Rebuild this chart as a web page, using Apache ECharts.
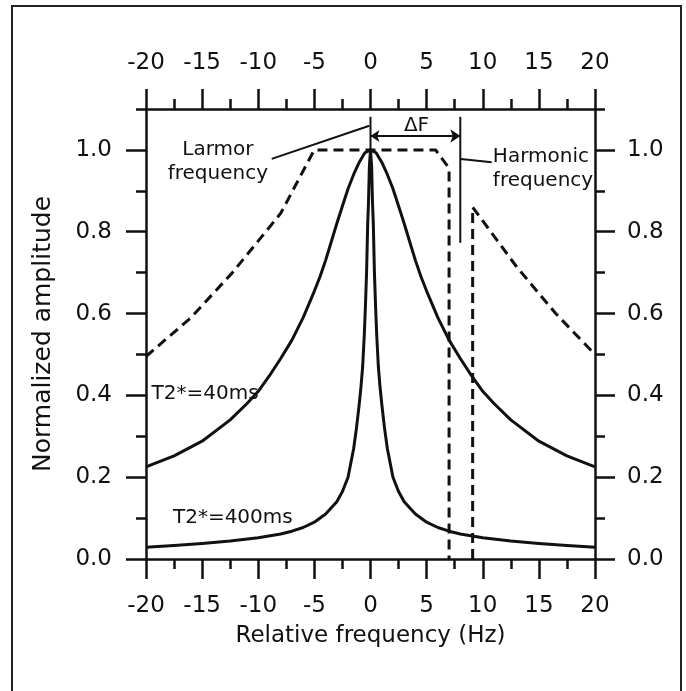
<!DOCTYPE html>
<html>
<head>
<meta charset="utf-8">
<script src="https://cdn.jsdelivr.net/npm/echarts@6/dist/echarts.min.js"></script>
<style>
html,body{margin:0;padding:0;background:#fff;}
#chart{width:686px;height:691px;}
</style>
</head>
<body>
<div id="chart"></div>
<script>
// ---- tick labels ----
const xTicks = [-20, -15, -10, -5, 0, 5, 10, 15, 20];
const yTicks = [0, 0.2, 0.4, 0.6, 0.8, 1.0];
const yMinorTicks = [0.1, 0.3, 0.5, 0.7, 0.9, 1.1];

// ---- T2* = 40 ms curve (frequency Hz, normalized amplitude) ----
const t40x = [-20, -17.5, -15, -12.5, -11, -10, -9, -8, -7, -6, -5, -4.5, -4, -3.5, -3, -2.5, -2, -1.5, -1, -0.5, 0, 0.5, 1, 1.5, 2, 2.5, 3, 3.5, 4, 4.5, 5, 6, 7, 8, 9, 10, 11, 12.5, 15, 17.5, 20];
const t40y = [0.225, 0.252, 0.288, 0.34, 0.38, 0.41, 0.448, 0.49, 0.535, 0.59, 0.655, 0.69, 0.73, 0.775, 0.82, 0.863, 0.905, 0.94, 0.97, 0.993, 1.0, 0.993, 0.97, 0.94, 0.905, 0.863, 0.82, 0.775, 0.73, 0.69, 0.655, 0.59, 0.535, 0.49, 0.448, 0.41, 0.38, 0.34, 0.288, 0.252, 0.225];

// ---- T2* = 400 ms curve ----
const t400x = [-20, -17.5, -15, -12.5, -10, -8, -7, -6, -5, -4, -3, -2.5, -2, -1.5, -1.25, -1, -0.85, -0.7, -0.55, -0.45, -0.35, -0.25, -0.18, -0.1, 0, 0.1, 0.18, 0.25, 0.35, 0.45, 0.55, 0.7, 0.85, 1, 1.25, 1.5, 2, 2.5, 3, 4, 5, 6, 7, 8, 10, 12.5, 15, 17.5, 20];
const t400y = [0.029, 0.033, 0.038, 0.044, 0.052, 0.061, 0.068, 0.077, 0.09, 0.11, 0.14, 0.165, 0.2, 0.27, 0.32, 0.38, 0.42, 0.47, 0.55, 0.62, 0.7, 0.82, 0.87, 0.96, 1.0, 0.96, 0.87, 0.82, 0.7, 0.62, 0.55, 0.47, 0.42, 0.38, 0.32, 0.27, 0.2, 0.165, 0.14, 0.11, 0.09, 0.077, 0.068, 0.061, 0.052, 0.044, 0.038, 0.033, 0.029];

// ---- dashed filter response, passband part ----
const filtAx = [-20, -16, -12.3, -8, -5.2, -5, 5.8, 7.0, 7.0];
const filtAy = [0.495, 0.59, 0.70, 0.845, 0.99, 1.0, 1.0, 0.955, 0.0];
// ---- dashed filter response, beyond harmonic ----
const filtBx = [9.1, 9.1, 13, 16.5, 20];
const filtBy = [0.0, 0.86, 0.715, 0.6, 0.5];

// ---- annotation geometry (data coordinates) ----
const larmorLeader = [[-8.8, 0.978], [-0.1, 1.059]];
const larmorMark = [[0, 1.0], [0, 1.081]];
const deltaF = [[0, 1.034], [8.0, 1.034]];
const harmonicMark = [[8.0, 1.081], [8.0, 0.773]];
const harmonicLeader = [[8.05, 0.978], [10.8, 0.97]];

const labels = [
  {text: 'Larmor\nfrequency', pos: [-13.6, 0.972], align: 'center'},
  {text: 'Harmonic\nfrequency', pos: [10.9, 0.954], align: 'left'},
  {text: '\u0394F', pos: [4.1, 1.058], align: 'center'},
  {text: 'T2*=40ms', pos: [-19.5, 0.403], align: 'left'},
  {text: 'T2*=400ms', pos: [-17.6, 0.10], align: 'left'}
];

const zip = (xs, ys) => xs.map((x, i) => [x, ys[i]]);
const INK = '#111';
const FONT = 'DejaVu Sans';

const axisCommonX = {
  type: 'value', min: -20, max: 20, interval: 5,
  axisLine: {show: true, onZero: false, lineStyle: {color: INK, width: 2.5}},
  axisTick: {show: true, length: 20, lineStyle: {color: INK, width: 2.5}},
  minorTick: {show: true, splitNumber: 2, length: 10, lineStyle: {color: INK, width: 2.5}},
  splitLine: {show: false}, minorSplitLine: {show: false},
  axisLabel: {color: INK, fontSize: 23, fontFamily: FONT,
    formatter: v => (xTicks.indexOf(v) >= 0 ? String(v) : '')}
};
const axisCommonY = {
  type: 'value', min: 0, max: 1.1,
  axisLine: {show: true, onZero: false, lineStyle: {color: INK, width: 2.5}},
  axisTick: {show: true, length: 20, customValues: yTicks, lineStyle: {color: INK, width: 2.5}},
  splitLine: {show: false},
  axisLabel: {color: INK, fontSize: 23, fontFamily: FONT, customValues: yTicks,
    formatter: v => (v > 1.05 ? '' : v.toFixed(1))}
};
const minorY = (pos) => ({
  type: 'value', min: 0, max: 1.1, position: pos,
  axisLine: {show: false, onZero: false},
  axisTick: {show: true, length: 10, customValues: yMinorTicks, lineStyle: {color: INK, width: 2.5}},
  axisLabel: {show: false}, splitLine: {show: false}
});

const lineSeries = (data) => ({
  type: 'line', data: data, xAxisIndex: 0, yAxisIndex: 0,
  symbol: 'none', smooth: false, silent: true, animation: false,
  lineStyle: {color: INK, width: 3, join: 'round'}
});
const dashSeries = (data) => ({
  type: 'line', data: data, xAxisIndex: 0, yAxisIndex: 0,
  symbol: 'none', smooth: false, silent: true, animation: false,
  lineStyle: {color: INK, width: 3, type: [10, 6]}
});
const thinLine = (data) => ({
  type: 'line', data: data, xAxisIndex: 0, yAxisIndex: 0,
  symbol: 'none', silent: true, animation: false,
  lineStyle: {color: INK, width: 2}
});

const chart = echarts.init(document.getElementById('chart'), null, {renderer: 'canvas'});
chart.setOption({
  backgroundColor: '#fff',
  animation: false,
  grid: {left: 146, right: 91, top: 109, bottom: 132, containLabel: false},
  graphic: [{
    type: 'rect', shape: {x: 12, y: 6, width: 669, height: 700},
    style: {fill: 'none', stroke: '#222', lineWidth: 2}, silent: true
  }],
  xAxis: [
    Object.assign({}, axisCommonX, {
      position: 'bottom',
      axisLabel: Object.assign({}, axisCommonX.axisLabel, {margin: 36}),
      name: 'Relative frequency (Hz)', nameLocation: 'middle', nameGap: 66,
      nameTextStyle: {color: INK, fontSize: 23, fontFamily: FONT}
    }),
    Object.assign({}, axisCommonX, {
      position: 'top',
      axisLabel: Object.assign({}, axisCommonX.axisLabel, {margin: 34})
    })
  ],
  yAxis: [
    Object.assign({}, axisCommonY, {
      position: 'left',
      axisLabel: Object.assign({}, axisCommonY.axisLabel, {margin: 34}),
      name: 'Normalized amplitude', nameLocation: 'middle', nameGap: 90, nameRotate: 90,
      nameTextStyle: {color: INK, fontSize: 25, fontFamily: FONT}
    }),
    Object.assign({}, axisCommonY, {
      position: 'right',
      axisLabel: Object.assign({}, axisCommonY.axisLabel, {margin: 32})
    }),
    minorY('left'),
    minorY('right')
  ],
  series: [
    lineSeries(zip(t40x, t40y)),
    lineSeries(zip(t400x, t400y)),
    dashSeries(zip(filtAx, filtAy)),
    dashSeries(zip(filtBx, filtBy)),
    thinLine(larmorLeader),
    thinLine(larmorMark),
    thinLine(harmonicMark),
    thinLine(harmonicLeader),
    {
      type: 'lines', coordinateSystem: 'cartesian2d', xAxisIndex: 0, yAxisIndex: 0,
      polyline: false, silent: true, animation: false,
      symbol: ['arrow', 'arrow'], symbolSize: [9, 10],
      lineStyle: {color: INK, width: 2, opacity: 1},
      data: [{coords: deltaF}]
    },
    {
      type: 'scatter', xAxisIndex: 0, yAxisIndex: 0, symbolSize: 0, silent: true, animation: false,
      itemStyle: {opacity: 1},
      data: labels.map(l => ({
        value: l.pos,
        label: {
          show: true, position: [0, 0], formatter: l.text, align: l.align, verticalAlign: 'middle',
          color: INK, opacity: 1, fontSize: 20, fontFamily: FONT, lineHeight: 24
        }
      }))
    }
  ]
});
</script>
</body>
</html>
